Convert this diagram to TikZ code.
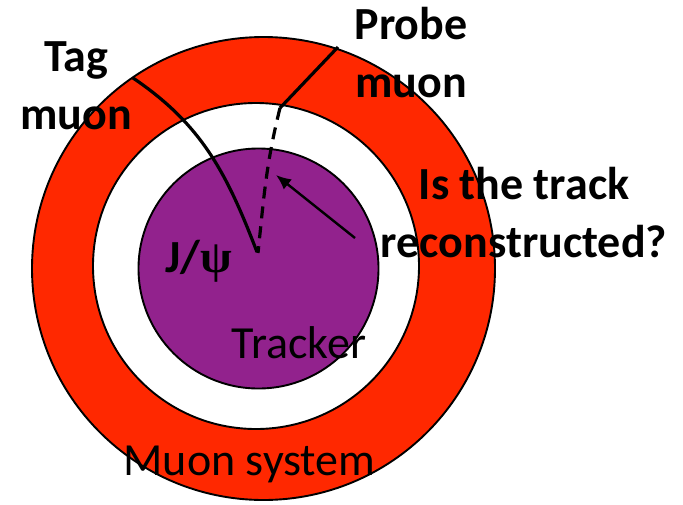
\documentclass[tikz,border=0pt]{standalone}
\usepackage{fontspec}
\setmainfont{Carlito}
\newfontfamily\psifont{Liberation Serif}
\usetikzlibrary{arrows.meta}
\definecolor{muonred}{RGB}{255,40,0}
\definecolor{trackpurple}{RGB}{146,34,141}
\tikzset{
  ring/.style={circle, draw=black, line width=1.9pt, inner sep=0pt},
  lbl/.style={font=\fontsize{46}{58}\selectfont\bfseries, inner sep=0pt, anchor=base, align=center},
  plainlbl/.style={font=\fontsize{46}{58}\selectfont, inner sep=0pt, anchor=base},
  trk/.style={line width=3.2pt},
}
\begin{document}
\begin{tikzpicture}[x=1pt,y=-1pt]
\useasboundingbox (0,0) rectangle (683,504);
\node[ring, fill=muonred, minimum size=463pt] (muonsys) at (263.5,268.5) {};
\node[ring, fill=white, minimum size=326pt] (gap) at (256,266) {};
\node[ring, fill=trackpurple, minimum size=240pt] (tracker) at (258.5,268.5) {};
% tracks
\coordinate (tagstart) at (133,78);
\coordinate (vtxa) at (257,252);
\coordinate (probestart) at (338,47);
\coordinate (probebreak) at (280,108);
\coordinate (vtxb) at (258,253);
\coordinate (qtail) at (355,238);
\coordinate (qtip) at (276,175);
\draw[trk] (tagstart) to[out=-34, in=111] (vtxa);
\draw[trk] (probestart) -- (probebreak);
\draw[trk, dash pattern=on 12pt off 8pt] (probebreak) to[out=-104, in=84] (vtxb);
\draw[line width=2.4pt, -{Latex[length=15pt,width=13pt]}] (qtail) -- (qtip);
% labels
\node[lbl] (tag) at (76,129) {Tag\\muon};
\node[lbl] (probe) at (411,97) {Probe\\muon};
\node[lbl] (question) at (524,257) {Is the track\\reconstructed?};
\node[lbl] (jpsi) at (199,272) {J/{\psifont ψ}};
\node[plainlbl] (trklabel) at (299,358) {Tracker};
\node[plainlbl] (muonlabel) at (249.5,475) {Muon system};
\end{tikzpicture}
\end{document}
